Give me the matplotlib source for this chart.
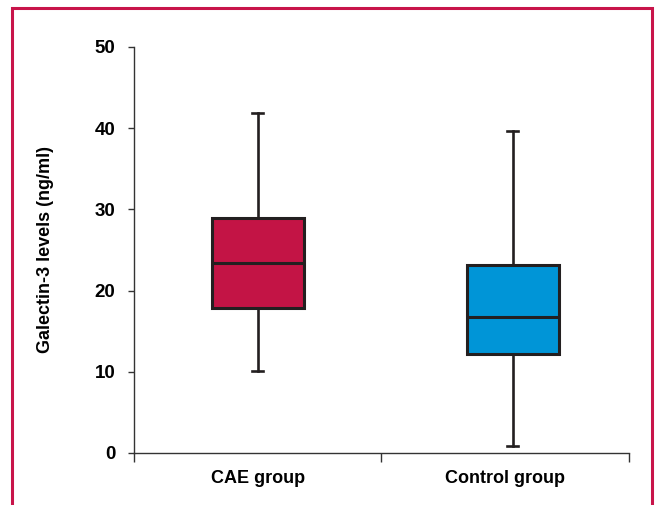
import matplotlib
matplotlib.use("Agg")
import matplotlib.pyplot as plt
from matplotlib.patches import Rectangle

plt.rcParams['font.family'] = ['Liberation Sans', 'DejaVu Sans']

# box plot summaries of galectin-3 (ng/ml)
groups = ["CAE group", "Control group"]
whisker_low = [10.1, 0.9]
q1 = [17.9, 12.2]
median = [23.4, 16.8]
q3 = [28.9, 23.2]
whisker_high = [41.9, 39.7]
box_colors = ["#C31445", "#0095D7"]

y_ticks = [0, 10, 20, 30, 40, 50]

stats = []
for i, g in enumerate(groups):
    stats.append(dict(label=g, whislo=whisker_low[i], q1=q1[i], med=median[i],
                      q3=q3[i], whishi=whisker_high[i], fliers=[]))

fig = plt.figure(figsize=(6.56, 5.05), dpi=100)
ax = fig.add_axes([0.2043, 0.103, 0.7545, 0.804])

ink = "#231F20"
bp = ax.bxp(stats, positions=[0.5, 1.53], widths=0.372, patch_artist=True,
            showfliers=False, capwidths=0.045,
            boxprops=dict(linewidth=2.2, edgecolor=ink),
            medianprops=dict(linewidth=2.2, color=ink),
            whiskerprops=dict(linewidth=1.9, color=ink),
            capprops=dict(linewidth=1.9, color=ink))
for patch, c in zip(bp['boxes'], box_colors):
    patch.set_facecolor(c)

ax.set_xlim(0, 2)
ax.set_ylim(0, 50)
ax.spines['top'].set_visible(False)
ax.spines['right'].set_visible(False)
for s in ['left', 'bottom']:
    ax.spines[s].set_linewidth(1.0)
    ax.spines[s].set_color("#333333")

ax.set_yticks(y_ticks)
ax.set_yticklabels([str(t) for t in y_ticks], fontsize=13.5, fontweight='bold')
ax.tick_params(axis='y', direction='out', length=4.3, width=1.0, pad=9, color="#333333")

# category separators as major ticks, group names on minor ticks
ax.set_xticks([0, 1, 2])
ax.set_xticklabels([])
ax.set_xticks([0.5, 1.5], minor=True)
ax.set_xticklabels(groups, minor=True, fontsize=13, fontweight='bold')
ax.tick_params(axis='x', which='major', direction='out', length=6.5, width=1.0, color="#333333")
ax.tick_params(axis='x', which='minor', length=0, pad=12)

ax.set_ylabel("Galectin-3 levels (ng/ml)", fontsize=13, fontweight='bold', va='center')
ax.yaxis.set_label_coords(-0.178, 0.5)

# crimson frame around the figure, open at the bottom edge
fig.patches.append(Rectangle((12 / 656, -0.05), 640 / 656, 1.05 - 8 / 505,
                             transform=fig.transFigure, fill=False,
                             edgecolor="#C8144A", linewidth=2.2))

fig.savefig("out.png", dpi=100)
